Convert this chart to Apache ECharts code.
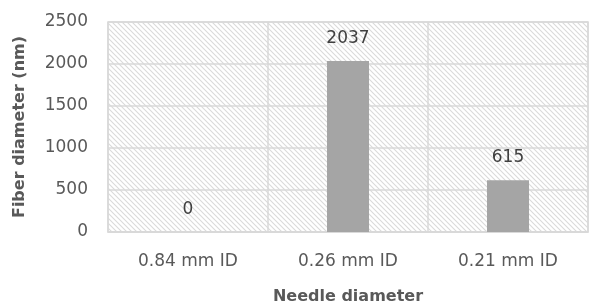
<!DOCTYPE html>
<html>
<head>
<meta charset="utf-8">
<script src="https://cdn.jsdelivr.net/npm/echarts@6/dist/echarts.min.js"></script>
<style>
  html, body { margin: 0; padding: 0; background: #fff; }
  #chart { width: 589px; height: 307px; }
</style>
</head>
<body>
<div id="chart"></div>
<script>
// data
var categories = ['0.84 mm ID', '0.26 mm ID', '0.21 mm ID'];
var fiberDiameter = [0, 2037, 615];
var yTicks = [0, 500, 1000, 1500, 2000, 2500];

// diagonal hatch for the plot area
function makeHatch() {
  var c = document.createElement('canvas');
  c.width = 5; c.height = 5;
  var ctx = c.getContext('2d');
  ctx.fillStyle = '#ffffff';
  ctx.fillRect(0, 0, 5, 5);
  ctx.strokeStyle = '#dadada';
  ctx.lineWidth = 1.1;
  ctx.beginPath();
  ctx.moveTo(-1, -1); ctx.lineTo(6, 6);
  ctx.moveTo(-1, 4); ctx.lineTo(1, 6);
  ctx.moveTo(4, -1); ctx.lineTo(6, 1);
  ctx.stroke();
  return c;
}

var chart = echarts.init(document.getElementById('chart'));
var font = 'DejaVu Sans';
chart.setOption({
  animation: false,
  grid: {
    left: 108, top: 22, right: 1, bottom: 75,
    outerBoundsMode: 'none',
    containLabel: false,
    show: true,
    backgroundColor: { image: makeHatch(), repeat: 'repeat' },
    borderColor: '#d9d9d9',
    borderWidth: 1.5
  },
  xAxis: {
    type: 'category',
    data: categories,
    name: 'Needle diameter',
    nameLocation: 'middle',
    nameGap: 57,
    nameTextStyle: { fontFamily: font, fontSize: 16, fontWeight: 'bold', color: '#595959' },
    axisLine: { lineStyle: { color: '#d9d9d9', width: 1.5 } },
    axisTick: { show: false },
    axisLabel: { fontFamily: font, fontSize: 17, color: '#595959', margin: 21 },
    splitLine: { show: true, lineStyle: { color: '#d9d9d9', width: 1.5 } }
  },
  yAxis: {
    type: 'value',
    min: yTicks[0],
    max: yTicks[yTicks.length - 1],
    interval: yTicks[1] - yTicks[0],
    name: 'Fiber diameter (nm)',
    nameLocation: 'middle',
    nameGap: 80,
    nameTextStyle: { fontFamily: font, fontSize: 16, fontWeight: 'bold', color: '#595959' },
    axisLine: { show: false },
    axisTick: { show: false },
    axisLabel: {
      fontFamily: font, fontSize: 17, color: '#595959', margin: 20,
      formatter: function (v) { return String(v); }
    },
    splitLine: { lineStyle: { color: '#d9d9d9', width: 1.5 } }
  },
  series: [{
    type: 'bar',
    data: fiberDiameter,
    barWidth: 42,
    itemStyle: { color: '#a5a5a5' },
    label: {
      show: true,
      position: 'top',
      distance: 14,
      fontFamily: font,
      fontSize: 17,
      color: '#404040'
    }
  }]
});
</script>
</body>
</html>
